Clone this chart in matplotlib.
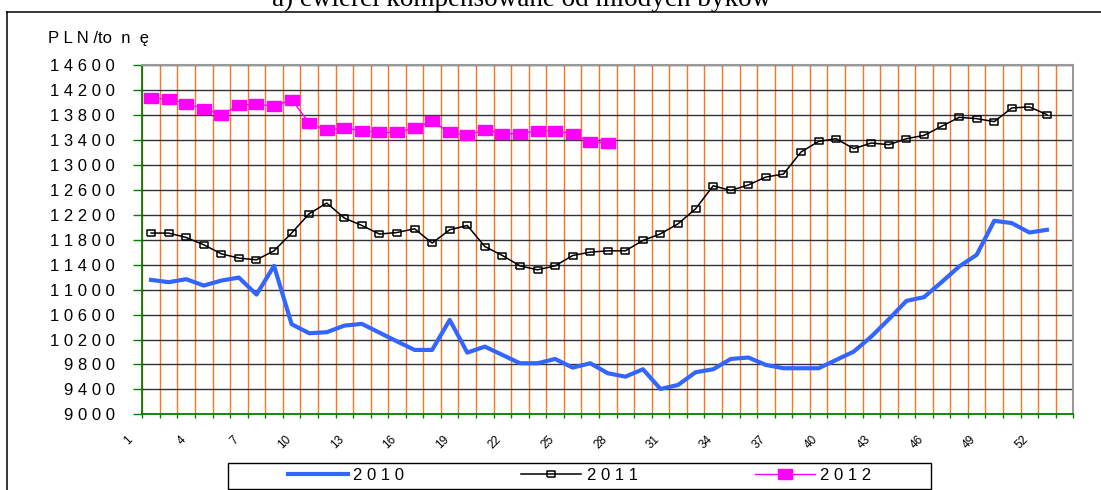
import numpy as np
import matplotlib
matplotlib.use('Agg')
from matplotlib import pyplot as plt
from matplotlib import transforms as mtransforms
from matplotlib.lines import Line2D
from matplotlib.patches import Rectangle

plt.rcParams['font.family'] = ['Liberation Sans', 'DejaVu Sans']

# ceny tygodniowe PLN/tonę
tygodnie = np.arange(1, 54)
y2010 = [11157, 11120, 11168, 11066, 11146, 11194, 10921, 11382, 10446, 10301,
         10317, 10423, 10451, 10310, 10170, 10033, 10033, 10515, 9990, 10086,
         9953, 9819, 9819, 9888, 9749, 9819, 9659, 9604, 9723, 9406,
         9471, 9675, 9723, 9888, 9911, 9792, 9739, 9739, 9739, 9872,
         10006, 10247, 10526, 10820, 10880, 11120, 11371, 11559, 12105, 12068,
         11917, 11960]
y2011 = [11908, 11908, 11837, 11720, 11575, 11506, 11479, 11623, 11908, 12218,
         12390, 12149, 12030, 11892, 11917, 11977, 11747, 11961, 12030, 11692,
         11548, 11382, 11318, 11382, 11548, 11602, 11623, 11623, 11789, 11896,
         12057, 12298, 12667, 12592, 12680, 12807, 12855, 13209, 13379, 13422,
         13262, 13353, 13326, 13422, 13475, 13620, 13765, 13744, 13696, 13916,
         13932, 13808]
y2012 = [14070, 14060, 13985, 13904, 13808, 13957, 13980, 13941, 14049, 13675,
         13556, 13594, 13551, 13524, 13524, 13594, 13700, 13524, 13475, 13567,
         13503, 13503, 13551, 13551, 13503, 13369, 13353]
etykiety_x = list(range(1, 53, 3))
yticks = list(range(9000, 14601, 400))

W, H = 1101, 490
fig = plt.figure(figsize=(W / 100, H / 100), dpi=100)
ax = fig.add_axes([142.3 / W, 1 - 414.3 / H, 931 / W, 349 / H])

prost = [(-1, -0.667), (1, -0.667), (1, 0.667), (-1, 0.667), (-1, -0.667)]

x10 = tygodnie[:len(y2010)]
x11 = tygodnie[:len(y2011)]
x12 = tygodnie[:len(y2012)]
l1, = ax.plot(x10, y2010, color='#3366FF', lw=3.0, zorder=3)
l2, = ax.plot(x11, y2011, color='black', lw=1.1, marker=prost, ms=6.2,
              mfc='none', mec='black', mew=1.1, zorder=4)
l3, = ax.plot(x12, y2012, color='#FF00FF', lw=1.0, marker=prost, ms=10,
              mfc='#FF00FF', mec='#FF00FF', zorder=5)

ax.set_xlim(0.5, 53.5)
ax.set_ylim(9000, 14600)

# siatka
ax.set_xticks(np.arange(0.5, 54, 1), minor=True)
ax.grid(which='minor', axis='x', color='#FF7420', lw=1.0)
ax.grid(which='major', axis='y', color='#333333', lw=1.0)
ax.set_axisbelow(True)

ax.set_yticks(yticks, labels=[' '.join(str(v)) for v in yticks], fontsize=12)
ax.set_xticks(etykiety_x, labels=[str(v) for v in etykiety_x], fontsize=8.5)
ax.tick_params(axis='y', direction='out', length=6.5, color='#008000',
               width=1.0, pad=13)
ax.tick_params(axis='x', which='major', length=0, pad=17)
ax.tick_params(axis='x', which='minor', direction='out', length=3,
               color='#008000', width=1.0)
offset = mtransforms.ScaledTranslation(-0.20, 0, fig.dpi_scale_trans)
for lab in ax.get_xticklabels():
    lab.set_rotation(45)
    lab.set_ha('right')
    lab.set_va('center')
    lab.set_rotation_mode('anchor')
    lab.set_transform(lab.get_transform() + offset)

for s in ['left', 'bottom']:
    ax.spines[s].set_color('#008000')
    ax.spines[s].set_linewidth(1.3)
for s in ['top', 'right']:
    ax.spines[s].set_color('#999999')
    ax.spines[s].set_linewidth(1.5)

# tytul i opis osi
fig.text(522 / W, 1 - 5.5 / H, 'a) ćwierci kompensowane od młodych byków',
         family='Liberation Serif', fontsize=19.5, ha='center', va='baseline')
fig.text(48 / W, 1 - 42.5 / H, 'P L N /to  n  ę', fontsize=12, va='baseline')

# ramka
fig.add_artist(Line2D([7 / W, 7 / W], [0, 1 - 12 / H], color='black', lw=1.1))
fig.add_artist(Line2D([7 / W, 1], [1 - 12 / H, 1 - 12 / H], color='black', lw=1.1))

# legenda
fig.add_artist(Rectangle((228 / W, 1 - 489 / H), 703 / W, 26.3 / H,
                         transform=fig.transFigure, fill=False,
                         edgecolor='black', lw=1.0))
fig.legend([l1, l2, l3], ['2 0 1 0', '2 0 1 1', '2 0 1 2'], ncol=3,
           loc='center', bbox_to_anchor=(579.5 / W, 1 - 475 / H),
           frameon=False, fontsize=12, handlelength=3.6, handletextpad=0.35,
           columnspacing=7.0, borderpad=0.2)

fig.savefig('out.png', dpi=100)
